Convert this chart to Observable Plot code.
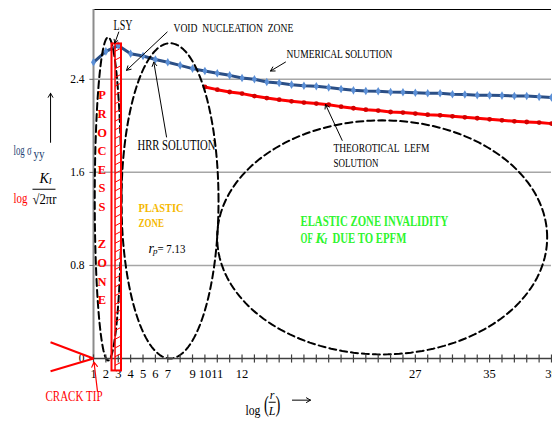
<!DOCTYPE html>
<html><head><meta charset="utf-8">
<script src="https://cdn.jsdelivr.net/npm/d3@7"></script>
<script src="https://cdn.jsdelivr.net/npm/@observablehq/plot@0.6"></script>
<style>
body{margin:0;background:#fff;}
#chart svg{overflow:hidden;}
#chart svg text{font-family:"Liberation Serif","Times New Roman","DejaVu Serif",serif;}
</style>
</head><body><div id="chart"></div>
<script>
// ---- data ----
const xTickLabels = ["1","2","3","4","5","6","7","","9","10","11","","12","","","","","","","","","","","","","","27","","","","","","35","","","","","39"];
const numerical = [2.546,2.64,2.69,2.62,2.60,2.57,2.546,2.52,2.492,2.471,2.452,2.434,2.411,2.400,2.377,2.368,2.354,2.345,2.340,2.329,2.317,2.305,2.299,2.297,2.291,2.288,2.285,2.280,2.280,2.271,2.270,2.263,2.262,2.260,2.257,2.257,2.249,2.243];
const lefm = [null,null,null,null,null,null,null,null,null,2.334,2.311,2.291,2.277,2.256,2.239,2.225,2.211,2.200,2.191,2.182,2.165,2.151,2.139,2.131,2.119,2.114,2.105,2.096,2.090,2.082,2.073,2.065,2.056,2.047,2.039,2.033,2.028,2.019];
const yTicks = [0, 0.8, 1.6, 2.4];
const yDomain = [0, 3];

// ---- annotation geometry (data units; x..xEnd is the span a label fills) ----
const zones = [
  {id:"lsy", cx:1.18, cy:1.372, rx:1.08, ry:1.389},
  {id:"plastic", cx:6.18, cy:1.355, rx:3.92, ry:1.355},
  {id:"elastic", cx:23.32, cy:1.041, rx:13.33, ry:1.006}
];
const processBar = [{x1:1.494, x2:2.262, y1:-0.107, y2:2.704}];
const processInner = [{x:1.74, y1:-0.107, y2:2.704}];
const pointers = [
  {x1:2.04, y1:2.806, x2:1.72, y2:2.711},
  {x1:5.95, y1:2.806, x2:2.67, y2:2.477},
  {x1:15.51, y1:2.548, x2:14.30, y2:2.471},
  {x1:5.90, y1:1.904, x2:4.87, y2:2.548},
  {x1:20.09, y1:1.875, x2:18.74, y2:2.184},
  {x1:-3.47, y1:1.858, x2:-3.47, y2:2.28},
  {x1:16.07, y1:-0.358, x2:17.53, y2:-0.358}
];
const crackTipPointer = [{x1:0.32, y1:-0.281, x2:0.04, y2:-0.03}];
const crackFaces = [{x1:-3.47, y1:0.14, x2:0, y2:0},{x1:-3.47, y1:-0.109, x2:0, y2:0}];
const voidNote = [{text:"VOID\u00a0\u00a0NUCLEATION\u00a0\u00a0ZONE", x:6.46, xEnd:16.16, y:2.846}];
const numNote = [{text:"NUMERICAL SOLUTION", x:15.59, xEnd:24.15, y:2.614}];
const lefmNote = [{text:"THEOROTICAL\u00a0\u00a0LEFM", x:19.39, xEnd:27.14, y:1.807},{text:"SOLUTION", x:19.39, xEnd:23.02, y:1.678}];
const hrrNote = [{text:"HRR SOLUTION", x:3.55, xEnd:9.85, y:1.833}];
const lsyNote = [{text:"LSY", x:1.62, xEnd:3.15, y:2.864}];
const plasticNote = [{text:"PLASTIC", x:3.63, xEnd:7.27, y:1.30},{text:"ZONE", x:3.63, xEnd:5.69, y:1.171}];
const elasticNote = [{text:"ELASTIC ZONE INVALIDITY", x:16.72, xEnd:28.68, y:1.180},{text:"OF", x:16.72, xEnd:17.72, y:1.034},{text:"DUE TO EPFM", x:19.31, xEnd:25.28, y:1.034}];
const elasticK = [{text:"K", x:17.93, y:1.034}];
const elasticKsub = [{text:"I", x:18.62, y:1.005}];
const rpMain = [{text:"r", x:4.44, y:0.948}];
const rpSub = [{text:"p", x:4.8, y:0.92}];
const rpValue = [{text:"= 7.13", x:5.17, xEnd:7.43, y:0.948}];
const processText = [{text:"P\nR\nO\nC\nE\nS\nS\n\nZ\nO\nN\nE", x:0.687, y:2.342}];
const crackText = [{text:"CRACK TIP", x:-3.88, xEnd:0.73, y:-0.324}];
const yLabelLog = [{text:"log \u03c3", x:-6.46, xEnd:-5.0, y:1.79}];
const yLabelSub = [{text:"yy", x:-4.85, xEnd:-3.95, y:1.755}];
const kLog = [{text:"log", x:-6.46, xEnd:-5.33, y:1.375}];
const kNum = [{text:"K", x:-3.98, y:1.549}];
const kNumSub = [{text:"I", x:-3.5, y:1.522}];
const kDen = [{text:"\u221a2\u03c0r", x:-4.93, xEnd:-2.99, y:1.367}];
const kBar = [{x1:-4.93, x2:-3.07, y:1.455}];
const xLabelLog = [{text:"log", x:12.28, xEnd:13.49, y:-0.444}];
const xParens = [{text:"(", x:13.97, y:-0.39},{text:")", x:14.9, y:-0.39}];
const xFrac = [{text:"r", x:14.43, y:-0.312},{text:"L", x:14.43, y:-0.455}];
const xFracBar = [{x1:14.15, x2:14.72, y:-0.376}];

// ---- derived tables ----
const rows = xTickLabels.map((label, i) => ({i, label, num: numerical[i], lefm: lefm[i]}));
const lefmRows = rows.filter(d => d.lefm != null);
const zonePts = zones.flatMap(e => d3.range(0, 361, 2).map(a => ({
  id: e.id,
  x: e.cx + e.rx * Math.cos(a * Math.PI / 180),
  y: e.cy + e.ry * Math.sin(a * Math.PI / 180)
})));
const hatch = d3.range(-0.06, 2.66, 0.075).map(y => ({y}));

const serif = "'Liberation Serif', 'Times New Roman', 'DejaVu Serif', serif";
const T = (data, opts) => Plot.text(data, {x: "x", y: "y", text: "text", fontFamily: serif, fill: "#000", ...opts});
const fitted = [];
const F = (name, data, opts) => { fitted.push([name, data]); return T(data, {textAnchor: "start", ariaLabel: () => name, ...opts}); };

const plot = Plot.plot({
  width: 552, height: 421,
  marginLeft: 93, marginRight: 1, marginTop: 9, marginBottom: 63,
  x: {domain: [0, xTickLabels.length - 1], axis: null},
  y: {domain: yDomain, axis: null},
  style: {fontFamily: serif, background: "white"},
  marks: [
    Plot.ruleY(yTicks.slice(1), {stroke: "#a6a6a6", strokeWidth: 1.5}),
    Plot.ruleY([yDomain[1]], {stroke: "#000", strokeWidth: 1.2}),
    Plot.ruleX([0], {y1: yDomain[0], y2: yDomain[1], stroke: "#8c8c8c", strokeWidth: 2}),
    Plot.link(yTicks, {x1: -0.33, x2: 0, y1: d => d, y2: d => d, stroke: "#595959"}),
    Plot.text(yTicks, {x: 0, y: d => d, text: d => d === 0 ? "0" : d.toFixed(1), textAnchor: "end", dx: -9, fontSize: 11.5, fill: "#000", fontFamily: serif}),
    // numerical solution
    Plot.line(rows, {x: "i", y: "num", stroke: "#2b4f86", strokeWidth: 3}),
    Plot.dot(rows, {x: "i", y: "num", symbol: "diamond", r: 2.6, fill: "#5b8fd6"}),
    // LEFM
    Plot.line(lefmRows, {x: "i", y: "lefm", stroke: "#ff0000", strokeWidth: 3}),
    Plot.dot(lefmRows, {x: "i", y: "lefm", r: 2.4, fill: "#d40000"}),
    // zone outlines
    Plot.line(zonePts, {x: "x", y: "y", z: "id", stroke: "#000", strokeWidth: 2, strokeDasharray: "7,4"}),
    // x axis
    Plot.ruleY([0], {stroke: "#404040", strokeWidth: 1.5}),
    Plot.link(rows, {x1: "i", x2: "i", y1: -0.035, y2: 0.035, stroke: "#404040", strokeWidth: 1.2}),
    Plot.text(rows, {x: "i", y: 0, text: "label", dy: 15, fontSize: 12.5, fill: "#000", fontFamily: serif}),
    // process zone bar
    Plot.rect(processBar, {x1: "x1", x2: "x2", y1: "y1", y2: "y2", fill: "none", stroke: "#ff0000", strokeWidth: 2}),
    Plot.ruleX(processInner, {x: "x", y1: "y1", y2: "y2", stroke: "#ff0000", strokeWidth: 1.5}),
    Plot.link(hatch, {x1: processInner[0].x, x2: processBar[0].x2, y1: d => d.y, y2: d => d.y + 0.03, stroke: "#ff0000", strokeWidth: 1}),
    T(processText, {lineAnchor: "top", lineHeight: 1.49, fontSize: 12.5, fontWeight: "bold", fill: "#ff0000"}),
    // crack tip
    Plot.link(crackFaces, {x1: "x1", y1: "y1", x2: "x2", y2: "y2", stroke: "#ff0000", strokeWidth: 2}),
    Plot.arrow(crackTipPointer, {x1: "x1", y1: "y1", x2: "x2", y2: "y2", stroke: "#ff0000", strokeWidth: 1.2, headLength: 7}),
    F("crack", crackText, {fontSize: 15, fill: "#ff0000"}),
    // pointers
    Plot.arrow(pointers, {x1: "x1", y1: "y1", x2: "x2", y2: "y2", stroke: "#000", strokeWidth: 1, headLength: 7}),
    // notes
    F("void", voidNote, {fontSize: 13}),
    F("num", numNote, {fontSize: 12.5}),
    F("lefmnote", lefmNote, {fontSize: 13}),
    F("hrr", hrrNote, {fontSize: 14.5}),
    F("lsy", lsyNote, {fontSize: 14}),
    F("plastic", plasticNote, {fontSize: 13.5, fontWeight: "bold", fill: "#f5b800"}),
    F("elastic", elasticNote, {fontSize: 14.5, fontWeight: "bold", fill: "#2ef52e"}),
    T(elasticK, {textAnchor: "start", fontSize: 14, fontWeight: "bold", fontStyle: "italic", fill: "#2ef52e"}),
    T(elasticKsub, {textAnchor: "start", fontSize: 8.5, fontWeight: "bold", fontStyle: "italic", fill: "#2ef52e"}),
    T(rpMain, {textAnchor: "start", fontSize: 14, fontStyle: "italic"}),
    T(rpSub, {textAnchor: "start", fontSize: 9, fontStyle: "italic"}),
    F("rpval", rpValue, {fontSize: 13.5}),
    // y label
    F("ylog", yLabelLog, {fontSize: 15, fill: "#243f72"}),
    F("ysub", yLabelSub, {fontSize: 13, fill: "#243f72"}),
    F("klog", kLog, {fontSize: 15, fill: "#ff0000"}),
    T(kNum, {fontSize: 14, fontStyle: "italic"}),
    T(kNumSub, {fontSize: 8.5, fontStyle: "italic"}),
    F("kden", kDen, {fontSize: 14}),
    Plot.link(kBar, {x1: "x1", x2: "x2", y1: "y", y2: "y", stroke: "#000", strokeWidth: 1}),
    // x label
    F("xlog", xLabelLog, {fontSize: 15.5}),
    T(xParens, {fontSize: 24, ariaLabel: () => "thin"}),
    T(xFrac, {fontSize: 12, fontStyle: "italic"}),
    Plot.link(xFracBar, {x1: "x1", x2: "x2", y1: "y", y2: "y", stroke: "#000", strokeWidth: 1})
  ]
});
document.getElementById("chart").appendChild(plot);
// fit annotation texts horizontally to the spans they occupy in the original
const xs = plot.scale("x");
function scaleText(t, k) {
  const tr = t.getAttribute("transform");
  if (tr) t.setAttribute("transform", tr + ` scale(${k},1)`);
  else {
    const x = +t.getAttribute("x") || 0, y = +t.getAttribute("y") || 0;
    t.removeAttribute("x"); t.removeAttribute("y");
    t.setAttribute("transform", `translate(${x},${y}) scale(${k},1)`);
  }
}
function textsOf(name) {
  const out = [];
  plot.querySelectorAll(`[aria-label="${name}"]`).forEach(el => {
    if (el.tagName.toLowerCase() === "text") out.push(el);
    else el.querySelectorAll("text").forEach(t => out.push(t));
  });
  return out;
}
for (const [name, data] of fitted) {
  textsOf(name).forEach((t, k) => {
    const d = data[k];
    if (!d) return;
    const target = xs.apply(d.xEnd) - xs.apply(d.x);
    let w = 0;
    try { w = t.getComputedTextLength() || t.getBBox().width; } catch (e) { w = 0; }
    if (w > 0 && target > 0) scaleText(t, target / w);
  });
}
textsOf("thin").forEach(t => scaleText(t, 0.6));
</script>
</body></html>
